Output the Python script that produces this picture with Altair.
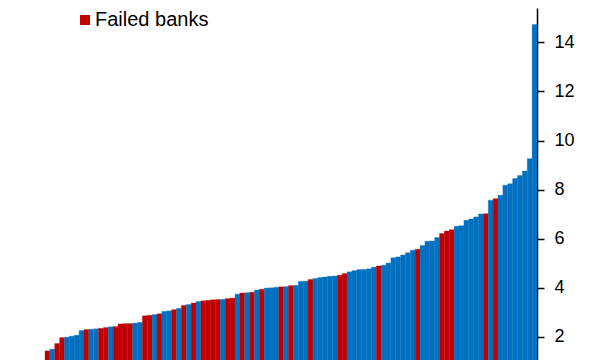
import altair as alt
import pandas as pd

# Capital ratio (%) per bank, sorted ascending; R = failed bank, B = other bank
values = [1.43, 1.50, 1.73, 1.97, 1.99, 2.03, 2.07, 2.26, 2.30, 2.31,
          2.33, 2.35, 2.38, 2.41, 2.42, 2.53, 2.54, 2.54, 2.56, 2.59,
          2.86, 2.88, 2.91, 2.94, 3.04, 3.06, 3.11, 3.16, 3.28, 3.32,
          3.38, 3.44, 3.47, 3.49, 3.51, 3.52, 3.53, 3.56, 3.58, 3.74,
          3.79, 3.80, 3.82, 3.91, 3.94, 3.99, 4.00, 4.02, 4.04, 4.05,
          4.09, 4.10, 4.26, 4.27, 4.34, 4.38, 4.42, 4.44, 4.47, 4.48,
          4.51, 4.58, 4.65, 4.70, 4.74, 4.75, 4.77, 4.84, 4.89, 4.92,
          5.01, 5.22, 5.26, 5.34, 5.43, 5.53, 5.57, 5.72, 5.90, 5.91,
          6.05, 6.21, 6.31, 6.37, 6.51, 6.53, 6.75, 6.80, 6.89, 7.01,
          7.02, 7.57, 7.63, 7.77, 8.18, 8.24, 8.45, 8.58, 8.76, 9.26,
          14.73]
status = list("RBRRBBBBRB"
              "BRRBRRRRBB"
              "RRBRBBRBRB"
              "RBRRRRBRRB"
              "RBRBRBBBRB"
              "RBBBRBBBBB"
              "RRBBBBBBRB"
              "BBBBBBRBBB"
              "BRRRBBBBBB"
              "RBRBBBBBBB"
              "B")
ticks = [2, 4, 6, 8, 10, 12, 14]

labels = {"R": "Failed banks", "B": "Other banks"}
df = pd.DataFrame({
    "bank": list(range(len(values))),
    "value": values,
    "group": [labels[s] for s in status],
})

color_scale = alt.Scale(domain=["Failed banks", "Other banks"],
                        range=["#C00000", "#0070C0"])

chart = alt.Chart(df).mark_bar(strokeWidth=0.35).encode(
    x=alt.X("bank:O", axis=None,
            scale=alt.Scale(paddingInner=0, paddingOuter=0)),
    y=alt.Y("value:Q",
            scale=alt.Scale(domain=[0, 15.4], nice=False, zero=True),
            axis=alt.Axis(orient="right", values=ticks, title=None, grid=False,
                          domainColor="black", domainWidth=1.5,
                          tickColor="black", tickWidth=1.5, tickSize=7,
                          labelFont="Liberation Sans", labelFontSize=18,
                          labelColor="black", labelPadding=10)),
    color=alt.Color("group:N", scale=color_scale,
                    legend=alt.Legend(values=["Failed banks"], title=None,
                                      orient="none", legendX=30, legendY=2,
                                      padding=0, symbolType="square",
                                      symbolSize=100, symbolStrokeWidth=0,
                                      labelFont="Liberation Sans",
                                      labelFontSize=20, labelColor="black",
                                      labelOffset=0)),
    stroke=alt.Stroke("group:N", scale=color_scale, legend=None),
).properties(
    width=492, height=378,
    autosize=alt.AutoSizeParams(type="none"),
    padding={"left": 37, "top": 0, "right": 55, "bottom": 0},
).configure_view(stroke=None)

chart.save("out.html", embed_options={"renderer": "svg", "actions": False})
